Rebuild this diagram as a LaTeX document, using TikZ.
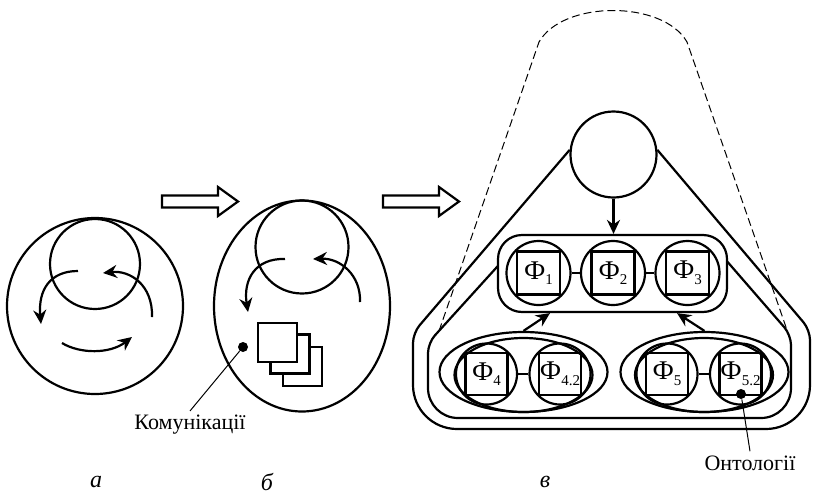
\documentclass[tikz,border=0pt]{standalone}
\usepackage{fontspec}
\setmainfont{Liberation Serif}
\usetikzlibrary{shapes.geometric,arrows.meta,calc}

\newcommand{\fsub}[1]{Ф\raisebox{-0.45ex}{\fontsize{7.5}{8}\selectfont#1}}

\begin{document}
\begin{tikzpicture}[x=0.5pt, y=-0.5pt,
    >={Stealth[length=7pt, width=6.5pt]},
    line/.style={line width=1.1pt},
    ring/.style={circle, draw, line width=1.1pt, inner sep=0pt},
    oval/.style={ellipse, draw, line width=1.1pt, inner sep=0pt},
    frame/.style={rectangle, draw, line width=1.1pt, inner sep=0pt, minimum size=21.5pt, font=\fontsize{13.5}{13.5}\selectfont},
    sheet/.style={rectangle, draw, line width=1.1pt, fill=white, minimum size=19.5pt},
    dot/.style={circle, fill, inner sep=0pt, minimum size=5pt},
    lead/.style={line width=0.5pt},
    tag/.style={font=\fontsize{11}{11}\selectfont, inner sep=2pt},
    panel/.style={font=\itshape\fontsize{12}{12}\selectfont},
    block/.style={draw, line width=1.1pt, fill=white},
    hull/.style={dash pattern=on 4pt off 2pt, line width=0.5pt},
]
\useasboundingbox (0,0) rectangle (814,493);

% a
\node[ring, minimum size=88pt] (aout) at (95,306) {};
\node[ring, minimum size=45pt] (ain) at (95,264) {};
\draw[line, ->] (78,271) .. controls (50,271) and (38,290) .. (41,324);
\draw[line, ->] (152,317) .. controls (153,285) and (130,270) .. (103,273);
\draw[line, ->] (62,343) .. controls (80,354) and (110,354) .. (132,337);

\foreach \x in {162,383}
  \draw[block] (\x,195.5) -- ++(56,0) -- ++(0,-8.5) -- ++(20,14.5) -- ++(-20,14.5) -- ++(0,-8.5) -- ++(-56,0) -- cycle;

% b
\node[oval, minimum width=88pt, minimum height=105.5pt] (bout) at (302,306) {};
\node[ring, minimum size=46.5pt] (bin) at (302,247) {};
\draw[line, ->] (285,259) .. controls (255,258) and (243,280) .. (248,312);
\draw[line, ->] (360,302) .. controls (361,275) and (340,258) .. (313,259);
\node[sheet] (s3) at (302.5,366.5) {};
\node[sheet] (s2) at (290,354) {};
\node[sheet] (s1) at (277.5,342.5) {};
\node[dot] (d1) at (243,347) {};
\node[tag] (kom) at (190,425) {Комунікації};
\draw[lead] (d1) -- (kom.north);

% v
\draw[hull] (439,331) -- (539,42) .. controls (563,0) and (663,0) .. (687,42) -- (787,330);
\node[ring, minimum size=43pt] (top) at (613.5,154.5) {};
\draw[line] (top.174) [rounded corners=5pt] -- (413,333) [rounded corners=22pt] -- (413,429) -- (810,429)
  [rounded corners=5pt] -- (810,330) -- (top.6);
\draw[line] (516,246) [rounded corners=5pt] -- (428,343) [rounded corners=15pt] -- (428,418) -- (791,418)
  [rounded corners=5pt] -- (791,335) -- (712,244);
\node[draw, line width=1.1pt, rounded corners=12pt, fill=white, minimum width=114.5pt, minimum height=38.5pt] (row) at (612.5,273.5) {};

\foreach \n/\x in {1/538.5, 2/613, 3/687.5} {
  \node[ring, minimum size=32pt] (c\n) at (\x,273) {};
  \node[frame] (f\n) at (\x,273) {\fsub{\n}};
}
\draw[line] (c1) -- (c2);
\draw[line] (c2) -- (c3);

\node[oval, minimum width=84pt, minimum height=40pt] (g1) at (523.5,372) {};
\node[oval, minimum width=69pt, minimum height=37pt] (h1) at (523.5,375) {};
\node[oval, minimum width=84pt, minimum height=40pt] (g2) at (704.5,372) {};
\node[oval, minimum width=69pt, minimum height=37pt] (h2) at (704,375) {};

\foreach \n/\x/\s in {4/486.5/4, 42/560/4.2, 5/667/5, 52/740.5/5.2} {
  \node[ring, minimum size=30.5pt] (c\n) at (\x,374) {};
  \node[frame, minimum size=21pt] (f\n) at (\x,374) {\fsub{\s}};
}
\draw[line] (c4) -- (c42);
\draw[line] (c5) -- (c52);

\draw[line, ->] (top.south) -- (top.south |- row.north);
\draw[line, ->] (g1.north) -- ($(row.south)+(-62.5,0)$);
\draw[line, ->] (g2.north) -- ($(row.south)+(64.5,0)$);

\node[dot] (d2) at (741,394) {};
\node[tag] (ont) at (750,463) {Онтології};
\draw[lead] (d2) -- (ont.north);

\node[panel] (la) at (96,482) {а};
\node[panel] (lb) at (267,482) {б};
\node[panel] (lv) at (545,482) {в};
\end{tikzpicture}
\end{document}
